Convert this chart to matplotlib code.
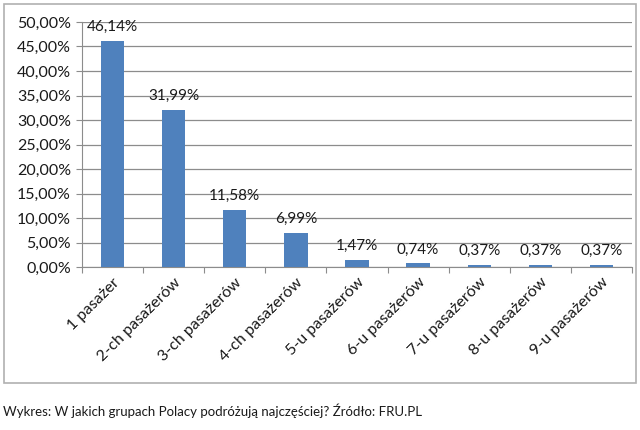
import matplotlib.pyplot as plt
from matplotlib.patches import Rectangle
from matplotlib.ticker import FixedLocator, FuncFormatter

plt.rcParams['font.family'] = ['Lato', 'DejaVu Sans']

kategorie = ['1 pasażer', '2-ch pasażerów', '3-ch pasażerów', '4-ch pasażerów',
             '5-u pasażerów', '6-u pasażerów', '7-u pasażerów', '8-u pasażerów',
             '9-u pasażerów']
procenty = [46.14, 31.99, 11.58, 6.99, 1.47, 0.74, 0.37, 0.37, 0.37]

fig = plt.figure(figsize=(6.4, 4.3), dpi=100)
W, H = 640, 430

# ramka wokol wykresu
fig.patches.append(Rectangle((4 / W, 1 - 383 / H), 632 / W, 379 / H,
                             transform=fig.transFigure, fill=False,
                             edgecolor='#b0b0b0', linewidth=1.2))

ax = fig.add_axes([82 / W, 1 - 267 / H, 550 / W, 245 / H])
x = list(range(len(kategorie)))
ax.bar(x, procenty, width=0.38, color='#4f81bd', zorder=3)

ax.set_xlim(-0.5, len(kategorie) - 0.5)
ax.set_ylim(0, 50)
ax.set_yticks(range(0, 51, 5))
ax.yaxis.set_major_formatter(FuncFormatter(lambda v, p: f'{v:.2f}%'.replace('.', ',')))
ax.grid(axis='y', color='#8c8c8c', linewidth=0.9, zorder=0)

ax.xaxis.set_major_locator(FixedLocator([i - 0.5 for i in range(len(kategorie) + 1)]))
ax.xaxis.set_major_formatter(FuncFormatter(lambda v, p: ''))
ax.xaxis.set_minor_locator(FixedLocator(x))
ax.set_xticklabels(kategorie, minor=True, rotation=45, ha='right',
                   rotation_mode='anchor', fontsize=11.5, color='#1a1a1a')
ax.tick_params(axis='x', which='minor', length=0, pad=6)
ax.tick_params(axis='x', which='major', length=4, color='#8c8c8c', direction='out')
ax.tick_params(axis='y', length=4, color='#8c8c8c', labelsize=11.5,
               labelcolor='#1a1a1a', pad=4)

for s in ['top', 'right']:
    ax.spines[s].set_visible(False)
for s in ['left', 'bottom']:
    ax.spines[s].set_color('#8c8c8c')

for xi, v in zip(x, procenty):
    ax.annotate(f'{v:.2f}%'.replace('.', ','), (xi, v), xytext=(0, 5),
                textcoords='offset points', ha='center', va='bottom',
                fontsize=11, color='#1a1a1a')

fig.text(3 / W, 1 - 411 / H, 'Wykres: W jakich grupach Polacy podróżują najczęściej? Źródło: FRU.PL',
         ha='left', va='center', fontsize=9.5, color='#1a1a1a')

fig.savefig('out.png', dpi=100)
